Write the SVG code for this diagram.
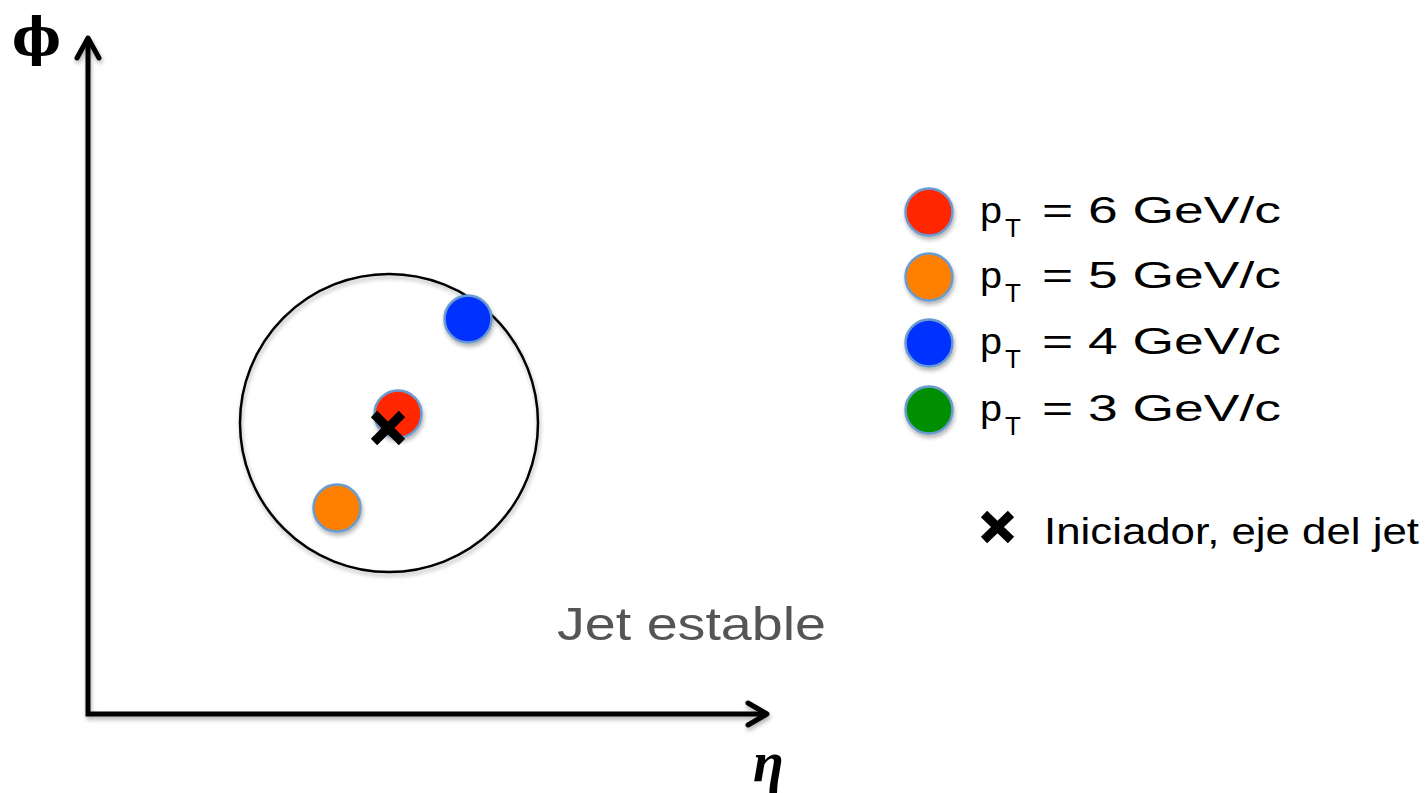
<svg xmlns="http://www.w3.org/2000/svg" width="1428" height="793" viewBox="0 0 1428 793">
<style>
.axis{fill:none;stroke:#000;stroke-width:5;stroke-linecap:butt}
.head{fill:none;stroke:#000;stroke-width:5;stroke-linecap:round;stroke-linejoin:round}
.dot{stroke:#6b9bd0;stroke-width:2.5}
.lbl{font-family:"Liberation Sans",Arial,sans-serif;font-size:37px;fill:#000}
.sub{font-family:"Liberation Sans",Arial,sans-serif;font-size:26px;fill:#000}
.xm{fill:none;stroke:#000;stroke-width:9;stroke-linecap:butt}
</style>
<defs>
<filter id="sh" x="-20%" y="-20%" width="140%" height="140%">
<feDropShadow dx="1" dy="3" stdDeviation="2" flood-color="#000" flood-opacity="0.3"/>
</filter>
</defs>
<rect width="1428" height="793" fill="#fff"/>
<g id="connectors" filter="url(#sh)">
<path class="axis" d="M88,38 V714 H766"/>
<path class="head" d="M77,58 L88,38 L99,58"/>
<path class="head" d="M748,703 L767,714 L748,725"/>
</g>
<g id="axis-labels">
<text x="12" y="55" font-family="'DejaVu Serif','Liberation Serif',serif" font-weight="bold" font-size="52">ϕ</text>
<text x="753" y="781" font-family="'Liberation Serif',serif" font-style="italic" font-weight="bold" font-size="56">η</text>
</g>
<g id="jet-circle" filter="url(#sh)">
<circle cx="389" cy="423" r="149" fill="none" stroke="#000" stroke-width="2.5"/>
</g>
<g id="particle-red" filter="url(#sh)"><circle class="dot" cx="398" cy="414" r="23.5" fill="#ff2600"/></g>
<g id="particle-blue" filter="url(#sh)"><circle class="dot" cx="468" cy="319" r="23.5" fill="#0433ff"/></g>
<g id="particle-orange" filter="url(#sh)"><circle class="dot" cx="337" cy="508" r="23.5" fill="#ff8000"/></g>
<g id="initiator">
<path class="xm" d="M374,414 L402,442 M402,414 L374,442"/>
</g>
<g id="legend">
<g id="leg-6" filter="url(#sh)"><circle class="dot" cx="929" cy="212" r="23.5" fill="#ff2600"/></g>
<g id="leg-5" filter="url(#sh)"><circle class="dot" cx="929" cy="277" r="23.5" fill="#ff8000"/></g>
<g id="leg-4" filter="url(#sh)"><circle class="dot" cx="929" cy="343" r="23.5" fill="#0433ff"/></g>
<g id="leg-3" filter="url(#sh)"><circle class="dot" cx="929" cy="410" r="23.5" fill="#008f00"/></g>
<text class="lbl" x="980" y="223" textLength="22" lengthAdjust="spacingAndGlyphs">p</text>
<text class="sub" x="1005" y="237">T</text>
<text class="lbl" x="1042" y="223" textLength="239" lengthAdjust="spacingAndGlyphs">= 6 GeV/c</text>
<text class="lbl" x="980" y="288" textLength="22" lengthAdjust="spacingAndGlyphs">p</text>
<text class="sub" x="1005" y="302">T</text>
<text class="lbl" x="1042" y="288" textLength="239" lengthAdjust="spacingAndGlyphs">= 5 GeV/c</text>
<text class="lbl" x="980" y="354" textLength="22" lengthAdjust="spacingAndGlyphs">p</text>
<text class="sub" x="1005" y="368">T</text>
<text class="lbl" x="1042" y="354" textLength="239" lengthAdjust="spacingAndGlyphs">= 4 GeV/c</text>
<text class="lbl" x="980" y="421" textLength="22" lengthAdjust="spacingAndGlyphs">p</text>
<text class="sub" x="1005" y="435">T</text>
<text class="lbl" x="1042" y="421" textLength="239" lengthAdjust="spacingAndGlyphs">= 3 GeV/c</text>
<path class="xm" d="M984,514 L1011,540 M1011,514 L984,540"/>
<text class="lbl" x="1044" y="544" textLength="375" lengthAdjust="spacingAndGlyphs">Iniciador, eje del jet</text>
</g>
<g id="title">
<text x="557" y="640" font-family="'Liberation Sans',Arial,sans-serif" font-size="47" fill="#555" textLength="269" lengthAdjust="spacingAndGlyphs">Jet estable</text>
</g>
</svg>
